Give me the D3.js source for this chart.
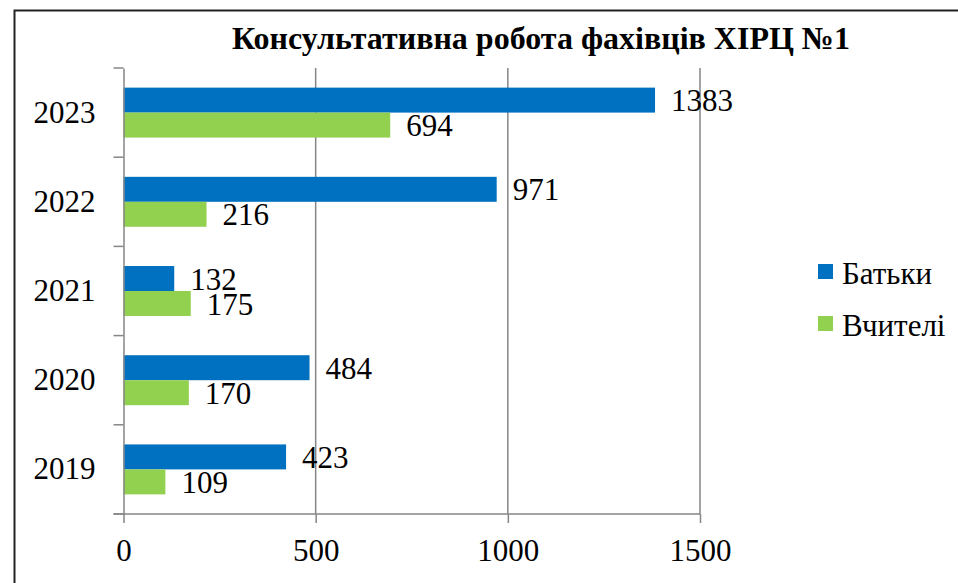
<!DOCTYPE html>
<html>
<head>
<meta charset="utf-8">
<script src="https://cdn.jsdelivr.net/npm/d3@7"></script>
<style>
  html, body { margin: 0; padding: 0; background: #fff; }
  svg { display: block; }
</style>
</head>
<body>
<svg id="chart" width="958" height="583"></svg>
<script>
const years = ["2023", "2022", "2021", "2020", "2019"];
const seriesNames = ["Батьки", "Вчителі"];
const parents = [1383, 971, 132, 484, 423];
const teachers = [694, 216, 175, 170, 109];
const xTicks = [0, 500, 1000, 1500];
const colors = ["#0070C0", "#92D050"];
const title = "Консультативна робота фахівців ХІРЦ №1";

const svg = d3.select("#chart");
const width = +svg.attr("width");
const height = +svg.attr("height");

const plotLeft = 123.5, plotRight = 700, plotTop = 68, plotBottom = 514;
const gridColor = "#868686";
const font = "Liberation Serif";
const fontSize = 31;

const rows = years.map((y, i) => ({ year: y, values: [parents[i], teachers[i]] }));

const x = d3.scaleLinear().domain([0, 1500]).range([plotLeft, plotRight]);
const y = d3.scaleBand().domain(years).range([plotTop, plotBottom]);
const inner = d3.scaleBand().domain(seriesNames)
  .range([y.bandwidth() * 0.22, y.bandwidth() * 0.78]);

// frame
svg.append("rect")
  .attr("x", 14.5).attr("y", 10.5)
  .attr("width", width + 20).attr("height", height + 20)
  .attr("fill", "none").attr("stroke", "#222").attr("stroke-width", 2);

svg.append("text")
  .attr("x", 541).attr("y", 49)
  .attr("text-anchor", "middle")
  .attr("font-family", font).attr("font-size", 32).attr("font-weight", "bold")
  .text(title);

// grid
svg.append("g")
  .selectAll("line")
  .data(xTicks.slice(1))
  .enter()
  .append("line")
  .attr("x1", (d) => x(d)).attr("x2", (d) => x(d))
  .attr("y1", plotTop).attr("y2", plotBottom)
  .attr("stroke", gridColor).attr("stroke-width", 1.5);

// bars
const group = svg.append("g")
  .selectAll("g")
  .data(rows)
  .enter()
  .append("g")
  .attr("transform", (d) => `translate(0,${y(d.year)})`);

group.selectAll("rect")
  .data((d) => d.values)
  .enter()
  .append("rect")
  .attr("x", x(0))
  .attr("y", (d, i) => inner(seriesNames[i]))
  .attr("width", (d) => x(d) - x(0))
  .attr("height", inner.bandwidth())
  .attr("fill", (d, i) => colors[i]);

group.selectAll("text")
  .data((d) => d.values)
  .enter()
  .append("text")
  .attr("x", (d) => x(d) + 16)
  .attr("y", (d, i) => inner(seriesNames[i]) + inner.bandwidth() / 2)
  .attr("dy", "0.36em")
  .attr("font-family", font).attr("font-size", fontSize)
  .text((d) => d);

// y axis
const yAxis = svg.append("g")
  .attr("transform", `translate(${plotLeft},0)`)
  .call(d3.axisLeft(y).tickSize(0).tickPadding(28));
yAxis.attr("font-family", font).attr("font-size", fontSize);
yAxis.select(".domain").attr("stroke", gridColor).attr("stroke-width", 1.5);
yAxis.selectAll("text")
  .attr("font-family", font).attr("font-size", fontSize).attr("fill", "#000");
yAxis.append("g")
  .selectAll("line")
  .data(years.map((d) => y(d)).concat([plotBottom]))
  .enter()
  .append("line")
  .attr("x1", -10).attr("x2", 0)
  .attr("y1", (d) => d).attr("y2", (d) => d)
  .attr("stroke", gridColor).attr("stroke-width", 1.5);

// x axis
const xAxis = svg.append("g")
  .attr("transform", `translate(0,${plotBottom})`)
  .call(d3.axisBottom(x).tickValues(xTicks).tickFormat(d3.format("d"))
    .tickSize(9).tickPadding(16).tickSizeOuter(0));
xAxis.attr("font-family", font).attr("font-size", fontSize);
xAxis.select(".domain").attr("stroke", gridColor).attr("stroke-width", 1.5)
  .attr("d", `M${plotLeft - 10},0H${plotRight}`);
xAxis.selectAll(".tick line").attr("stroke", gridColor).attr("stroke-width", 1.5);
xAxis.selectAll("text")
  .attr("font-family", font).attr("font-size", fontSize).attr("fill", "#000");

// legend
const legend = svg.append("g")
  .selectAll("g")
  .data(seriesNames)
  .enter()
  .append("g")
  .attr("transform", (d, i) => `translate(818,${264 + i * 52})`);
legend.append("rect")
  .attr("width", 15).attr("height", 15)
  .attr("fill", (d, i) => colors[i]);
legend.append("text")
  .attr("x", 24).attr("y", 8).attr("dy", "0.38em")
  .attr("font-family", font).attr("font-size", fontSize)
  .text((d) => d);
</script>
</body>
</html>
